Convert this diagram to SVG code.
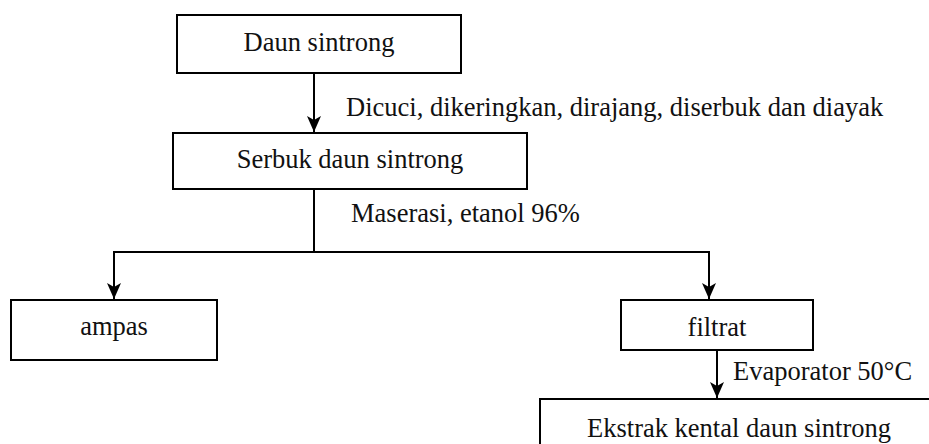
<svg xmlns="http://www.w3.org/2000/svg" width="929" height="444" viewBox="0 0 929 444">
<style>
  .box { fill: #ffffff; stroke: #000000; stroke-width: 2; }
  .lbl { font-family: 'Liberation Serif', 'DejaVu Serif', serif; font-size: 26.5px; fill: #111111; }
  .mid { text-anchor: middle; }
  .ln { fill: none; stroke: #000000; stroke-width: 2; }
</style>
<defs>
  <marker id="ah" markerUnits="userSpaceOnUse" markerWidth="18" markerHeight="18" viewBox="-16 -9 18 18" refX="0" refY="0" orient="auto">
    <path d="M0,0 L-16,-7 L-12,0 L-16,7 Z" fill="#000000"/>
  </marker>
</defs>
<rect width="929" height="444" fill="#ffffff"/>
<g id="connectors">
  <line class="ln" x1="314" y1="74" x2="314" y2="132" marker-end="url(#ah)"/>
  <line class="ln" x1="314" y1="189" x2="314" y2="252"/>
  <polyline class="ln" points="314,252 114,252 114,299" marker-end="url(#ah)"/>
  <polyline class="ln" points="314,252 709,252 709,299" marker-end="url(#ah)"/>
  <line class="ln" x1="717" y1="350" x2="717" y2="398" marker-end="url(#ah)"/>
  <text class="lbl" x="346" y="116">Dicuci, dikeringkan, dirajang, diserbuk dan diayak</text>
  <text class="lbl" x="351" y="222">Maserasi, etanol 96%</text>
  <text class="lbl" x="733" y="380">Evaporator 50°C</text>
</g>
<g id="daun">
  <rect class="box" x="177" y="15" width="284" height="58"/>
  <text class="lbl mid" x="319" y="51">Daun sintrong</text>
</g>
<g id="serbuk">
  <rect class="box" x="173" y="133" width="354" height="56"/>
  <text class="lbl mid" x="350" y="168">Serbuk daun sintrong</text>
</g>
<g id="ampas">
  <rect class="box" x="11" y="300" width="206" height="60"/>
  <text class="lbl mid" x="114" y="335">ampas</text>
</g>
<g id="filtrat">
  <rect class="box" x="621" y="300" width="192" height="50"/>
  <text class="lbl mid" x="717" y="336">filtrat</text>
</g>
<g id="ekstrak">
  <rect class="box" x="540" y="399" width="400" height="60"/>
  <text class="lbl mid" x="739" y="437">Ekstrak kental daun sintrong</text>
</g>
</svg>
